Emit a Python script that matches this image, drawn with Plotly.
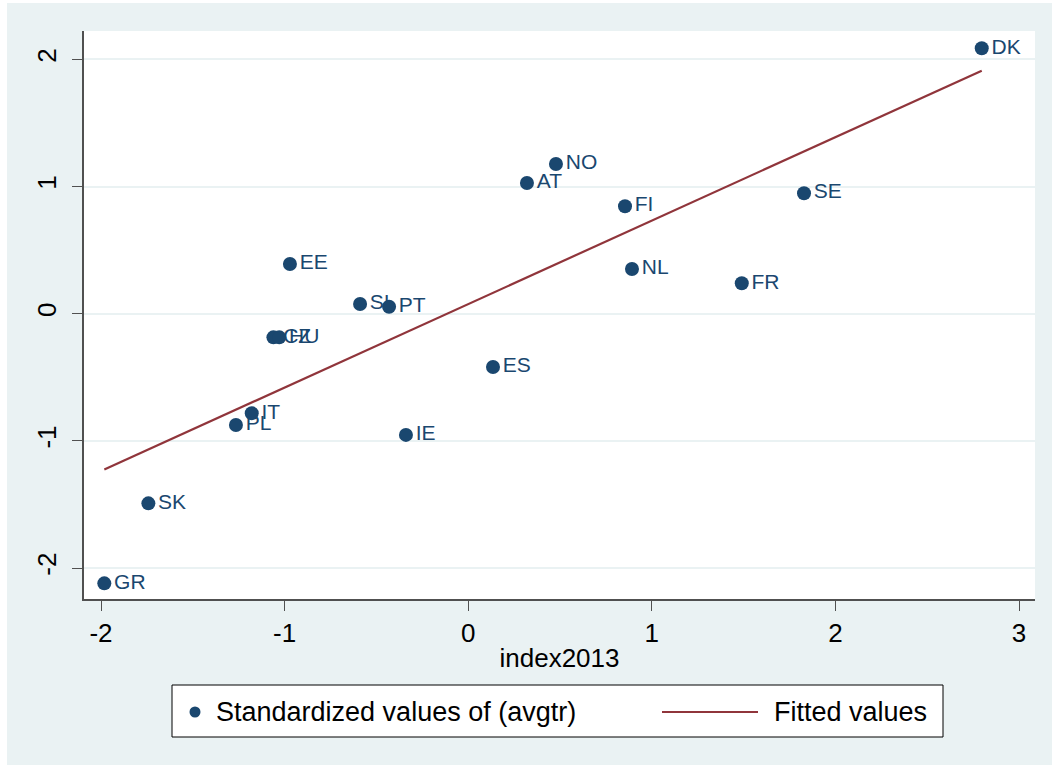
import numpy as np
import plotly.graph_objects as go

countries = ["AT", "CZ", "DK", "EE", "ES", "FI", "FR", "GR", "HU",
             "IE", "IT", "NL", "NO", "PL", "PT", "SE", "SI", "SK"]
index2013 = [0.320, -1.061, 2.797, -0.971, 0.135, 0.854, 1.490, -1.982, -1.029,
             -0.339, -1.179, 0.892, 0.478, -1.265, -0.431, 1.829, -0.589, -1.742]
std_avgtr = [1.028, -0.186, 2.087, 0.391, -0.419, 0.845, 0.239, -2.120, -0.186,
             -0.953, -0.783, 0.351, 1.177, -0.875, 0.055, 0.947, 0.076, -1.491]

x_ticks = [-2, -1, 0, 1, 2, 3]
y_ticks = [-2, -1, 0, 1, 2]
legend_labels = ["Standardized values of (avgtr)", "Fitted values"]

NAVY = "#1a476f"
MAROON = "#90353b"
BG = "#eaf2f3"
AXIS = "#505050"
FONT = "Liberation Sans, Arial, sans-serif"

x = np.array(index2013)
y = np.array(std_avgtr)
slope, intercept = np.polyfit(x, y, 1)
fx = np.array([x.min(), x.max()])
fy = intercept + slope * fx

fig = go.Figure()
fig.add_trace(go.Scatter(
    x=fx, y=fy, mode="lines", name=legend_labels[1],
    line=dict(color=MAROON, width=2.2), showlegend=False, hoverinfo="skip"))
fig.add_trace(go.Scatter(
    x=index2013, y=std_avgtr, mode="markers+text", name=legend_labels[0],
    text=countries, textposition="middle right",
    textfont=dict(family=FONT, size=21, color=NAVY),
    marker=dict(color=NAVY, size=14), showlegend=False))

# page offset of the figure (body margin set below): left 7px, top 3px
OX, OY = 7, 3
W, H = 1052 - OX, 765 - OY
L, R, T, B = 84 - OX, 1052 - 1035, 31 - OY, 765 - 599
pw, ph = W - L - R, H - T - B


def px(xp):
    return (xp - OX - L) / pw


def py(yp):
    return (H - B - (yp - OY)) / ph


shapes = [
    dict(type="rect", xref="paper", yref="paper", x0=px(172), x1=px(943),
         y0=py(737), y1=py(685), fillcolor="white", line=dict(color="black", width=1)),
    dict(type="circle", xref="paper", yref="paper", x0=px(189.5), x1=px(200.5),
         y0=py(717.5), y1=py(706.5), fillcolor=NAVY, line=dict(width=0)),
    dict(type="line", xref="paper", yref="paper", x0=px(662), x1=px(758),
         y0=py(712), y1=py(712), line=dict(color=MAROON, width=2.2)),
]
annotations = [
    dict(xref="paper", yref="paper", x=px(214), y=py(712), text=legend_labels[0],
         showarrow=False, xanchor="left", yanchor="middle",
         font=dict(family=FONT, size=27, color="black")),
    dict(xref="paper", yref="paper", x=px(772), y=py(712), text=legend_labels[1],
         showarrow=False, xanchor="left", yanchor="middle",
         font=dict(family=FONT, size=27, color="black")),
]

fig.update_layout(
    width=W, height=H,
    margin=dict(l=L, r=R, t=T, b=B, pad=0),
    paper_bgcolor=BG, plot_bgcolor="white",
    font=dict(family=FONT, color="black"),
    shapes=shapes, annotations=annotations,
    showlegend=False,
)
fig.update_xaxes(
    range=[-2.0926, 3.0871], tickvals=x_ticks, ticktext=[str(t) for t in x_ticks],
    showgrid=False, zeroline=False,
    showline=True, linecolor=AXIS, linewidth=2,
    ticks="outside", ticklen=10, tickcolor=AXIS, tickwidth=1,
    tickfont=dict(family=FONT, size=26, color="black"),
    title=dict(text="index2013", font=dict(family=FONT, size=26, color="black"), standoff=2),
)
fig.update_yaxes(
    range=[-2.243, 2.2225], tickvals=y_ticks, ticktext=[str(t) for t in y_ticks],
    showgrid=True, gridcolor=BG, gridwidth=2, zeroline=False,
    showline=True, linecolor=AXIS, linewidth=2,
    ticks="outside", ticklen=10, tickcolor=AXIS, tickwidth=1,
    tickangle=-90, ticklabelstandoff=6,
    tickfont=dict(family=FONT, size=26, color="black"),
)

fig.write_html(
    "out.html",
    post_script="document.body.style.margin='3px 0 0 7px';"
                "document.documentElement.style.overflow='hidden';",
)
